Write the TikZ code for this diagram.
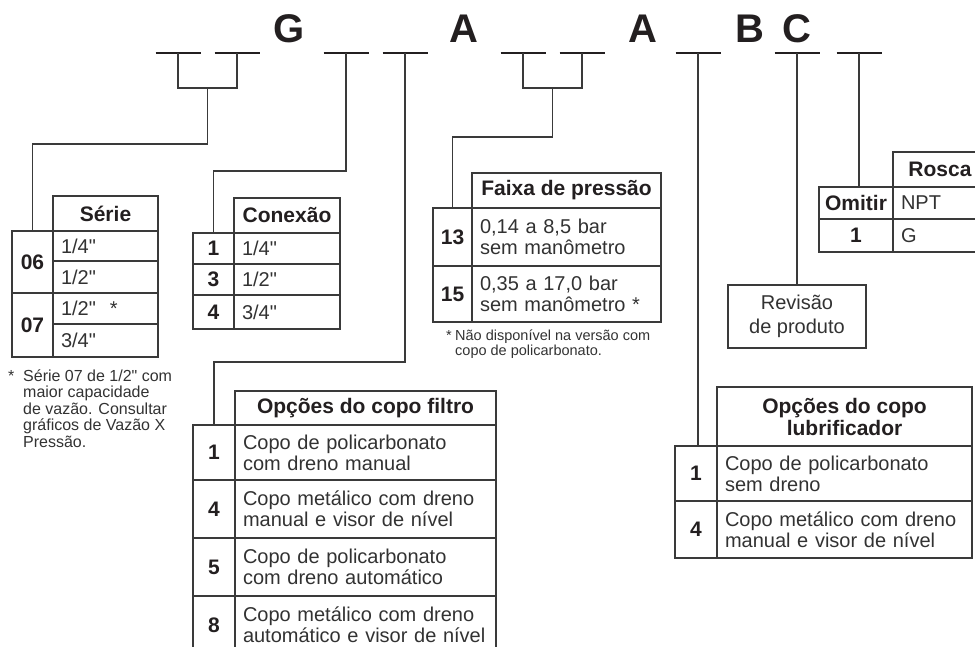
\documentclass[tikz,border=0pt]{standalone}
\usepackage{fontspec}
\setmainfont{Liberation Sans}
\newfontfamily\semlig{Liberation Sans}
\newcommand{\pol}{{\semlig"}}
\usepackage{tikz}
\usetikzlibrary{calc}
\definecolor{tinta}{RGB}{35,31,32}
\definecolor{borda}{RGB}{58,58,58}
\definecolor{textocinza}{RGB}{50,50,50}

\begin{document}
\begin{tikzpicture}[x=1pt, y=-1pt,
  traco/.style={line width=2.4pt, draw=tinta},
  ligacao/.style={line width=1.1pt, draw=borda},
  celula/.style={draw=borda, line width=1.1pt, anchor=north west,
    inner sep=0pt, outer sep=0pt, text=tinta},
  cab/.style={celula, font=\fontsize{21pt}{22pt}\selectfont\bfseries,
    align=center},
  cod/.style={celula, font=\fontsize{21pt}{22pt}\selectfont\bfseries,
    align=center},
  val/.style={celula, font=\fontsize{20pt}{21pt}\selectfont,
    text=textocinza, align=left, inner xsep=8pt},
  letra/.style={font=\fontsize{40pt}{40pt}\selectfont\bfseries,
    text=tinta, anchor=base, inner sep=0pt},
  nota/.style={font=\fontsize{14.5pt}{15.5pt}\selectfont, text=textocinza,
    align=left, anchor=north west, inner sep=0pt},
]
  \useasboundingbox (0,0) rectangle (975,646);
  \clip (0,0) rectangle (975,646);
  % Letras fixas do codigo
  \node[letra] (lG) at (289,42) {G};
  \node[letra] (lA1) at (464,42) {A};
  \node[letra] (lA2) at (643,42) {A};
  \node[letra] (lB) at (750,42) {B};
  \node[letra] (lC) at (797,42) {C};
  % Tracos das posicoes
  \foreach \x [count=\i] in {178,237,346,405,523,582,698,797,859} {
    \coordinate (t\i) at (\x,53);
    \draw[traco] (\x-22.5,53) -- (\x+22.5,53);
  }
  % Serie
  \node[cab, minimum width=105pt, minimum height=35pt] (serie) at (53,196) {Série};
  \node[cod, minimum width=41pt, minimum height=62pt] (s06) at (12,231) {06};
  \node[cod, minimum width=41pt, minimum height=64pt] (s07) at (12,293) {07};
  \node[val, minimum width=105pt, minimum height=30pt, text width=89pt] (s1) at (53,231) {1/4\pol};
  \node[val, minimum width=105pt, minimum height=32pt, text width=89pt] (s2) at (53,261) {1/2\pol};
  \node[val, minimum width=105pt, minimum height=31pt, text width=89pt] (s3) at (53,293) {1/2\pol\hspace{14pt}*};
  \node[val, minimum width=105pt, minimum height=33pt, text width=89pt] (s4) at (53,324) {3/4\pol};
  \node[nota, font=\fontsize{16pt}{16.5pt}\selectfont] (nserie) at (8,369.5)
    {\makebox[15pt][l]{*}Série 07 de 1/2\pol{} com\\
     \hspace*{15pt}maior capacidade\\
     \hspace*{15pt}de vazão. Consultar\\
     \hspace*{15pt}gráficos de Vazão X\\
     \hspace*{15pt}Pressão.};
  % Conexao
  \node[cab, minimum width=106pt, minimum height=35pt] (conexao) at (234,198) {Conexão};
  \node[cod, minimum width=41pt, minimum height=31pt] (c1) at (193,233) {1};
  \node[cod, minimum width=41pt, minimum height=31pt] (c3) at (193,264) {3};
  \node[cod, minimum width=41pt, minimum height=34pt] (c4) at (193,295) {4};
  \node[val, minimum width=106pt, minimum height=31pt, text width=90pt] (k1) at (234,233) {1/4\pol};
  \node[val, minimum width=106pt, minimum height=31pt, text width=90pt] (k3) at (234,264) {1/2\pol};
  \node[val, minimum width=106pt, minimum height=34pt, text width=90pt] (k4) at (234,295) {3/4\pol};
  % Faixa de pressao
  \node[cab, minimum width=189pt, minimum height=35pt] (faixa) at (472,173) {Faixa de pressão};
  \node[cod, minimum width=39pt, minimum height=58pt] (f13) at (433,208) {13};
  \node[cod, minimum width=39pt, minimum height=56pt] (f15) at (433,266) {15};
  \node[val, minimum width=189pt, minimum height=58pt, text width=173pt] (p13) at (472,208)
    {0,14 a 8,5 bar\\sem manômetro};
  \node[val, minimum width=189pt, minimum height=56pt, text width=173pt] (p15) at (472,266)
    {0,35 a 17,0 bar\\sem manômetro *};
  \node[nota] (nfaixa) at (446,329.5)
    {\makebox[9pt][l]{*}Não disponível na versão com\\
     \hspace*{9pt}copo de policarbonato.};
  % Opcoes do copo filtro
  \node[cab, minimum width=261pt, minimum height=34pt] (filtro) at (235,391) {Opções do copo filtro};
  \node[cod, minimum width=42pt, minimum height=55pt] (o1) at (193,425) {1};
  \node[cod, minimum width=42pt, minimum height=58pt] (o4) at (193,480) {4};
  \node[cod, minimum width=42pt, minimum height=58pt] (o5) at (193,538) {5};
  \node[cod, minimum width=42pt, minimum height=58pt] (o8) at (193,596) {8};
  \node[val, minimum width=261pt, minimum height=55pt, text width=245pt] (v1) at (235,425)
    {Copo de policarbonato\\com dreno manual};
  \node[val, minimum width=261pt, minimum height=58pt, text width=245pt] (v4) at (235,480)
    {Copo metálico com dreno\\manual e visor de nível};
  \node[val, minimum width=261pt, minimum height=58pt, text width=245pt] (v5) at (235,538)
    {Copo de policarbonato\\com dreno automático};
  \node[val, minimum width=261pt, minimum height=58pt, text width=245pt] (v8) at (235,596)
    {Copo metálico com dreno\\automático e visor de nível};
  % Opcoes do copo lubrificador
  \node[cab, minimum width=255pt, minimum height=59pt] (lubri) at (717,387)
    {Opções do copo\\lubrificador};
  \node[cod, minimum width=42pt, minimum height=55pt] (l1) at (675,446) {1};
  \node[cod, minimum width=42pt, minimum height=57pt] (l4) at (675,501) {4};
  \node[val, minimum width=255pt, minimum height=55pt, text width=239pt] (u1) at (717,446)
    {Copo de policarbonato\\sem dreno};
  \node[val, minimum width=255pt, minimum height=57pt, text width=239pt] (u4) at (717,501)
    {Copo metálico com dreno\\manual e visor de nível};
  % Revisao
  \node[celula, anchor=north, minimum width=138pt, minimum height=63pt, align=center,
    font=\fontsize{20pt}{24pt}\selectfont, text=textocinza] (revisao) at (797,285)
    {Revisão\\de produto};
  % Rosca
  \node[cab, minimum width=94pt, minimum height=35pt] (rosca) at (893,152) {Rosca};
  \node[cod, minimum width=74pt, minimum height=32pt] (r1) at (819,187) {Omitir};
  \node[cod, minimum width=74pt, minimum height=33pt] (r2) at (819,219) {1};
  \node[val, minimum width=94pt, minimum height=32pt, text width=78pt] (npt) at (893,187) {NPT};
  \node[val, minimum width=94pt, minimum height=33pt, text width=78pt] (rg) at (893,219) {G};
  % Ligacoes
  \draw[ligacao] (t1) -- ++(0,35) -| (t2);
  \draw[ligacao] ($(t1)!.5!(t2)+(0,35)$) -- ++(0,56) -| (s06.north);
  \draw[ligacao] (t3) -- ++(0,118) -| (c1.north);
  \draw[ligacao] (t5) -- ++(0,35) -| (t6);
  \draw[ligacao] ($(t5)!.5!(t6)+(0,35)$) -- ++(0,49) -| (f13.north);
  \draw[ligacao] (t4) -- ++(0,309) -| (o1.north);
  \draw[ligacao] (t7) -- (t7 |- l1.north);
  \draw[ligacao] (t8) -- (revisao.north);
  \draw[ligacao] (t9) -- (t9 |- r1.north);
\end{tikzpicture}
\end{document}
